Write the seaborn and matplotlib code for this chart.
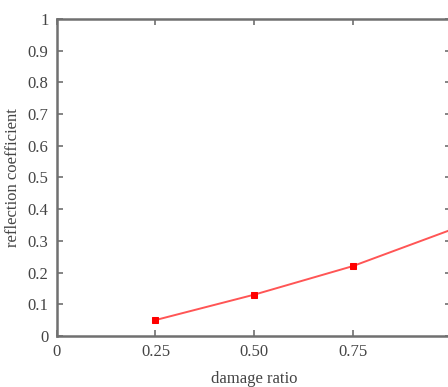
import matplotlib
matplotlib.use("Agg")
import matplotlib.pyplot as plt
import seaborn as sns
import pandas as pd

damage_ratio = [0.25, 0.50, 0.75, 1.00]
reflection = [0.05, 0.13, 0.22, 0.335]
x_ticks = [0, 0.25, 0.50, 0.75, 1.00]
x_labels = ["0", "0.25", "0.50", "0.75", ""]
y_ticks = [0, 0.1, 0.2, 0.3, 0.4, 0.5, 0.6, 0.7, 0.8, 0.9, 1.0]
y_labels = ["0", "0.1", "0.2", "0.3", "0.4", "0.5", "0.6", "0.7", "0.8", "0.9", "1"]

sns.set_theme(style="white")
plt.rcParams['font.family'] = ['Liberation Serif', 'DejaVu Serif']

df = pd.DataFrame({"damage ratio": damage_ratio, "reflection coefficient": reflection})

fig = plt.figure(figsize=(4.48, 3.87), dpi=100)
ax = fig.add_axes([0.127, 0.132, 0.88, 0.819])
sns.lineplot(data=df, x="damage ratio", y="reflection coefficient", ax=ax,
             color="#ff5555", linewidth=1.4, marker="s", markersize=5,
             markerfacecolor="#ff0000", markeredgecolor="#ff0000")
ax.set_xlim(0, 1)
ax.set_ylim(0, 1)
ax.set_xticks(x_ticks)
ax.set_xticklabels(x_labels)
ax.set_yticks(y_ticks)
ax.set_yticklabels(y_labels)
for s in ax.spines.values():
    s.set_color("#707070")
    s.set_linewidth(1.8)
ax.tick_params(direction="in", length=4, width=1.2, color="#707070",
               labelsize=12, labelcolor="#444444",
               top=True, right=True, bottom=True, left=True, pad=6)
ax.set_xlabel("damage ratio", fontsize=12, color="#444444", labelpad=8)
ax.set_ylabel("reflection coefficient", fontsize=12, color="#444444", labelpad=5)
fig.savefig("out.png", dpi=100)
